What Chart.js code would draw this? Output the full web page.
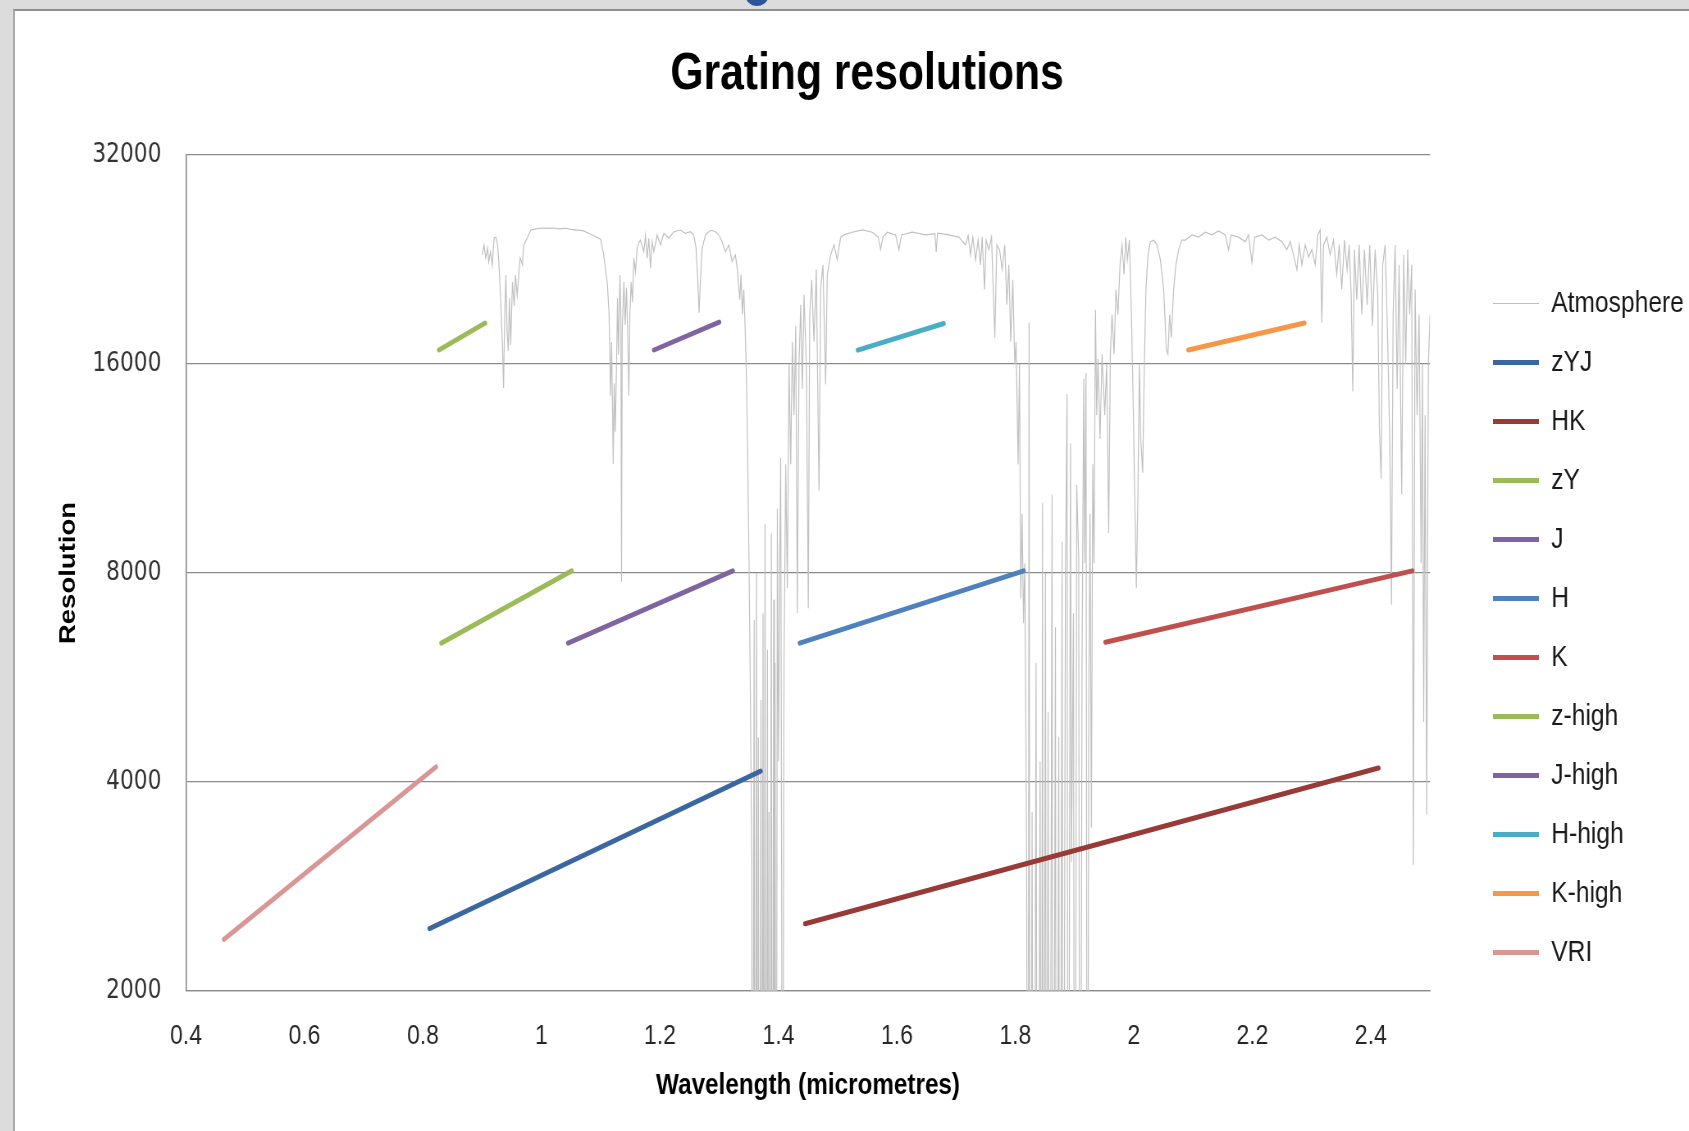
<!DOCTYPE html>
<html>
<head>
<meta charset="utf-8">
<title>Grating resolutions</title>
<script src="https://cdn.jsdelivr.net/npm/chart.js@4.4.1/dist/chart.umd.min.js"></script>
<style>
    html, body { margin: 0; padding: 0; background: #dcdcdc; overflow: hidden; }
    #frame { position: absolute; left: 13px; top: 9px; width: 1674px; height: 1120px;
             background: #ffffff; border-top: 2px solid #8e8e8e; border-left: 2px solid #a9a9a9; }
    #dot { position: absolute; left: 745px; top: -18px; width: 24px; height: 24px;
           border-radius: 50%; background: #2e5597; z-index: 2; }
    canvas { display: block; }
</style>
</head>
<body>
<div id="dot"></div>
<!-- the chart is drawn 2041 wide and shown 1674 wide, which gives the narrow lettering of the original -->
<div id="frame"><canvas id="chart-grating" width="2041" height="1120" style="width:1674px;height:1120px"></canvas></div>
<script>
"use strict";

// Gratings: wavelength (micrometres) and resolution at both ends of each line
let gratingNames = ["zYJ", "HK", "zY", "J", "H", "K", "z-high", "J-high", "H-high", "K-high", "VRI"];
let gratingStartWave = [0.811, 1.445, 0.831, 1.045, 1.436, 1.952, 0.827, 1.190, 1.534, 2.092, 0.464];
let gratingEndWave = [1.370, 2.413, 1.051, 1.323, 1.814, 2.470, 0.905, 1.300, 1.679, 2.288, 0.822];
let gratingStartRes = [2460, 2500, 6340, 6340, 6340, 6360, 16760, 16760, 16750, 16760, 2374];
let gratingEndRes = [4146, 4190, 8057, 8057, 8057, 8057, 18330, 18390, 18300, 18330, 4205];
let gratingColors = ["#3a67a0", "#983a36", "#9bbb59", "#8064a2", "#4f81bd", "#c0504d",
                     "#9bbb59", "#8064a2", "#4bacc6", "#f79646", "#d99694"];

// Atmosphere trace (300 = below the bottom of the axis)
let atmWave = [
    0.900, 0.903, 0.906, 0.909, 0.911, 0.914, 0.917, 0.920, 0.923, 0.926,
    0.928, 0.931, 0.934, 0.936, 0.938, 0.940, 0.942, 0.944, 0.946, 0.948,
    0.951, 0.954, 0.956, 0.959, 0.964, 0.968, 0.970, 0.976, 0.982, 0.990,
    1.000, 1.010, 1.020, 1.030, 1.040, 1.050, 1.060, 1.070, 1.083, 1.100,
    1.105, 1.111, 1.114, 1.1155, 1.1166, 1.1183, 1.120, 1.1211, 1.1228, 1.1245,
    1.1267, 1.1283, 1.130, 1.1324, 1.134, 1.1351, 1.1363, 1.1391, 1.1413, 1.1435,
    1.1459, 1.1475, 1.1492, 1.1514, 1.1536, 1.156, 1.1587, 1.1615, 1.165, 1.1671,
    1.1728, 1.1756, 1.1784, 1.1813, 1.184, 1.1868, 1.1897, 1.1953, 1.2009, 1.2066,
    1.215, 1.2234, 1.2346, 1.243, 1.2515, 1.2571, 1.261, 1.2639, 1.2661, 1.2683,
    1.2712, 1.2768, 1.2852, 1.2936, 1.2994, 1.3049, 1.3105, 1.3162, 1.3218, 1.3273,
    1.3307, 1.3347, 1.3369, 1.3391, 1.3415, 1.3437, 1.3459, 1.3482, 1.3504, 1.3526,
    1.355, 1.356, 1.359, 1.3605, 1.3630, 1.3645, 1.3661, 1.3678, 1.3705, 1.3718, 1.3740, 1.3755, 1.3774, 1.3790,
    1.3815, 1.3828, 1.3841, 1.3858, 1.3880, 1.3897, 1.3920, 1.3932, 1.3943, 1.3960,
    1.3982, 1.4000, 1.4022, 1.4038, 1.4055, 1.4066, 1.4094, 1.4123, 1.4150, 1.4179,
    1.4207, 1.4235, 1.4263, 1.4292, 1.4319, 1.4347, 1.4376, 1.4403, 1.4432, 1.4471,
    1.4504, 1.4528, 1.4562, 1.4600, 1.4639, 1.4685, 1.4713, 1.4752, 1.4797, 1.4825,
    1.4882, 1.4938, 1.4993, 1.5051, 1.5106, 1.5246, 1.5415, 1.5584, 1.5685, 1.5725,
    1.5764, 1.5837, 1.5978, 1.6034, 1.6079, 1.6258, 1.6484, 1.6641, 1.6663, 1.6686,
    1.6877, 1.7046, 1.7159, 1.7203, 1.7243, 1.7282, 1.7327, 1.7371, 1.7411, 1.7439,
    1.7479, 1.7506, 1.7552, 1.7597, 1.7653, 1.7686, 1.7732, 1.7776, 1.7821, 1.7855,
    1.7889, 1.7922, 1.7956, 1.7990, 1.8012, 1.8046, 1.8069, 1.8091, 1.8113, 1.8137,
    1.8159, 1.8175, 1.8192, 1.8214, 1.8231, 1.8248, 1.8282, 1.8311, 1.8349, 1.8373,
    1.8417, 1.8440, 1.8457, 1.8474, 1.8508, 1.8525, 1.8552, 1.8575, 1.8619, 1.8636,
    1.8676, 1.8693, 1.8732, 1.8750, 1.8788, 1.8805, 1.8845, 1.8872, 1.8889, 1.8929,
    1.8946, 1.8980, 1.9002, 1.9035, 1.9069, 1.9091, 1.9125, 1.9154, 1.9170, 1.9192,
    1.9216, 1.9238, 1.9260, 1.9283, 1.9306, 1.9328, 1.9351, 1.9373, 1.9395, 1.9429,
    1.9463, 1.9508, 1.9541, 1.9575, 1.9603, 1.9631, 1.9665, 1.9698, 1.9732, 1.9766,
    1.9800, 1.9834, 1.9862, 1.9890, 1.9924, 1.9958, 1.9992, 2.0019, 2.0042, 2.0069,
    2.0093, 2.0115, 2.0149, 2.0177, 2.0204, 2.0238, 2.0278, 2.0334, 2.0390, 2.0447,
    2.0503, 2.0548, 2.0575, 2.0604, 2.0632, 2.0671, 2.0710, 2.0756, 2.0811, 2.0868,
    2.0980, 2.1093, 2.1206, 2.1317, 2.1430, 2.1543, 2.1598, 2.1644, 2.1767, 2.1880,
    2.1936, 2.1992, 2.2038, 2.2161, 2.2273, 2.2386, 2.2498, 2.2582, 2.2639, 2.2695,
    2.2751, 2.2791, 2.2835, 2.2892, 2.2948, 2.3004, 2.3061, 2.3105, 2.3145, 2.3172,
    2.3201, 2.3257, 2.3313, 2.3369, 2.3425, 2.3466, 2.3509, 2.3555, 2.3600, 2.3634,
    2.3668, 2.3695, 2.3723, 2.3762, 2.3803, 2.3847, 2.3892, 2.3938, 2.3981, 2.4027,
    2.4072, 2.4116, 2.4145, 2.4174, 2.4200, 2.4241, 2.4285, 2.4319, 2.4348, 2.4376,
    2.4410, 2.4444, 2.4477, 2.4521, 2.4555, 2.4589, 2.4622, 2.4656, 2.4690, 2.4718,
    2.4747, 2.4781, 2.4815, 2.4849, 2.4871, 2.4892, 2.4916, 2.4943, 2.4971, 2.5000
];
let atmRes = [
    22970, 23740, 22750, 23500, 22450, 23200, 22220, 24300, 24380, 23740,
    22450, 19900, 17200, 14780, 18820, 21500, 17800, 16700, 19900, 17050,
    21000, 19400, 21500, 20100, 22750, 22220, 23740, 24300, 24950, 25050,
    25120, 25080, 25120, 25050, 25100, 25000, 24950, 24900, 24600, 24200,
    22970, 21000, 19000, 16500, 14400, 17200, 13600, 11480, 15000, 12780,
    15950, 19900, 16500, 21500, 18820, 7770, 17800, 21000, 18210, 20600,
    17200, 14400, 18820, 21000, 19650, 22750, 21700, 23500, 24000, 24130,
    23220, 24540, 22720, 24280, 21980, 24000, 23220, 24540, 23740, 24680,
    24280, 24810, 24950, 24680, 24810, 24540, 23470, 21050, 18960, 21050,
    23470, 24540, 24950, 24810, 24540, 24000, 23220, 23740, 22480, 22970,
    21880, 19810, 21530, 18850, 20480, 18160, 15530, 11470, 8260, 5370,
    3070, 300, 6850, 300, 8000, 300, 4640, 300, 5250, 300, 7000, 300, 9420, 300,
    6200, 300, 3620, 300, 9130, 300, 7320, 300, 5940, 300,
    9900, 4280, 8260, 11720, 2600, 300, 5940, 11470, 7610, 16000,
    11470, 17230, 13500, 18160, 7000, 16000, 19480, 14730, 20140, 16000,
    7120, 18850, 21150, 17230, 21880, 10510, 20480, 22230, 14960, 21530,
    22980, 23750, 22610, 24370, 24550, 24770, 24960, 24770, 24370, 23380,
    24370, 24770, 24550, 23380, 24550, 24770, 24550, 24650, 23200, 24700,
    24550, 24370, 23750, 24500, 22980, 24370, 22610, 24130, 22230, 24370,
    20480, 24130, 23380, 24370, 17460, 23750, 23380, 21900, 23750, 19480,
    22230, 17230, 21150, 16000, 17230, 11470, 16000, 7360, 9740, 6770,
    8260, 5200, 2600, 300, 18340, 300, 3620, 300, 5940, 300,
    4280, 300, 10100, 300, 8000, 300, 5050, 300, 10380, 300,
    6680, 300, 4640, 300, 8870, 300, 8000, 14490, 300, 12290,
    3070, 7000, 300, 10710, 8400, 300, 5940, 15240, 8260, 15530,
    300, 5050, 9740, 3440, 11470, 8260, 19160, 13500, 16260, 12490,
    16530, 13500, 16000, 9130, 16530, 18850, 16530, 20480, 18850, 22230,
    23750, 21530, 24370, 22610, 24130, 18850, 13500, 9740, 7610, 10510,
    16000, 12490, 11160, 16000, 20480, 22980, 24010, 24130, 23750, 22610,
    20480, 16800, 16530, 18850, 17460, 20480, 22230, 23380, 24130, 24130,
    24550, 24370, 24770, 24550, 24880, 24550, 23380, 24550, 24370, 24010,
    24550, 22410, 24370, 24550, 24130, 24370, 24010, 23380, 24010, 22980,
    21880, 23750, 22230, 23750, 22810, 23380, 22230, 24550, 24960, 18340,
    23750, 24370, 22980, 24130, 21530, 23750, 20480, 24130, 21880, 23750,
    20140, 14610, 23380, 19810, 23750, 18850, 23380, 19480, 23750, 18160,
    23380, 20140, 12880, 10930, 22230, 23750, 17230, 12490, 7200, 18850,
    23750, 14730, 22230, 10380, 22980, 16000, 23380, 18850, 22230, 3040,
    20480, 13500, 18850, 8260, 16000, 4880, 13500, 3590, 16000, 18850
];

// Axis ticks
let xTickValues = [0.4, 0.6, 0.8, 1.0, 1.2, 1.4, 1.6, 1.8, 2.0, 2.2, 2.4];
let xTickLabels = ["0.4", "0.6", "0.8", "1", "1.2", "1.4", "1.6", "1.8", "2", "2.2", "2.4"];
let yTickValues = [2000, 4000, 8000, 16000, 32000];
let yTickLabels = ["2000", "4000", "8000", "16000", "32000"];

function drawGratingChart() {
    "use strict";

    let sans = "'Liberation Sans', Arial, sans-serif";
    let gridColor = "#8a8a8a";

    Chart.defaults.font.family = sans;

    /* Build the datasets - the atmosphere first, then one line per grating */
    let datasets = [];
    datasets.push({
        "label": "Atmosphere",
        "data": atmWave.map(function (w, i) { return { x: w, y: atmRes[i] }; }),
        "borderColor": "#c0c0c0",
        "backgroundColor": "#c0c0c0",
        "borderWidth": 1.2,
        "showLine": true,
        "pointRadius": 0,
        "order": 1
    });
    for (let i = 0; i < gratingNames.length; i++) {
        datasets.push({
            "label": gratingNames[i],
            "data": [
                { x: gratingStartWave[i], y: gratingStartRes[i] },
                { x: gratingEndWave[i], y: gratingEndRes[i] }
            ],
            "borderColor": gratingColors[i],
            "backgroundColor": gratingColors[i],
            "borderWidth": 5,
            "borderCapStyle": "round",
            "showLine": true,
            "pointRadius": 0,
            "order": 0
        });
    }

    let canvas = document.getElementById("chart-grating");

    let myChart = new Chart(canvas, {
        "type": "scatter",
        "data": { "datasets": datasets },
        "options": {
            responsive: false,
            animation: false,
            events: [],
            layout: { padding: { top: 10, left: 36.6, right: 0, bottom: 32 } },
            plugins: {
                title: {
                    display: true,
                    text: "Grating resolutions",
                    color: "#000000",
                    font: { family: sans, size: 52, weight: "bold" },
                    padding: { top: 22.5, bottom: 49.1 }
                },
                legend: {
                    position: "right",
                    align: "start",
                    maxWidth: 268,
                    // blank title only pushes the list down
                    title: { display: true, text: " ", font: { size: 10, lineHeight: 1 }, padding: { top: 228.5, bottom: 0 } },
                    labels: {
                        usePointStyle: true,
                        pointStyle: "line",
                        pointStyleWidth: 56,
                        padding: 29,
                        color: "#1a1a1a",
                        font: { family: sans, size: 30 },
                        sort: function (a, b) { return a.datasetIndex - b.datasetIndex; }
                    }
                },
                tooltip: { enabled: false }
            },
            scales: {
                x: {
                    type: "linear",
                    position: "bottom",
                    min: 0.4,
                    max: 2.5,
                    afterBuildTicks: function (scale) {
                        scale.ticks = xTickValues.map(function (v) { return { value: v }; });
                    },
                    afterFit: function (scale) { scale.height = 108; },
                    grid: { display: false, drawTicks: false },
                    border: { color: gridColor, width: 1.3 },
                    ticks: {
                        padding: 28,
                        color: "#262626",
                        autoSkip: false,
                        maxRotation: 0,
                        font: { family: sans, size: 28 },
                        callback: function (value, index) { return xTickLabels[index]; }
                    },
                    title: {
                        display: true,
                        text: "Wavelength (micrometres)",
                        color: "#000000",
                        font: { family: sans, size: 29.6, weight: "bold", lineHeight: 0.9 },
                        padding: { top: 0, bottom: 0 }
                    }
                },
                y: {
                    type: "logarithmic",
                    position: "left",
                    min: 2000,
                    max: 32000,
                    afterBuildTicks: function (scale) {
                        scale.ticks = yTickValues.map(function (v) { return { value: v }; });
                    },
                    afterFit: function (scale) { scale.width = 171.9; },
                    grid: { color: gridColor, lineWidth: 1.3, drawTicks: false },
                    border: { color: gridColor, width: 1.6 },
                    ticks: {
                        padding: 30,
                        color: "#333333",
                        autoSkip: false,
                        font: { family: "'DejaVu Sans', sans-serif", size: 26.5 },
                        callback: function (value, index) { return yTickLabels[index]; }
                    },
                    title: {
                        display: true,
                        text: "Resolution",
                        color: "#000000",
                        font: { family: sans, size: 27.5, weight: "bold", lineHeight: 1 },
                        padding: { top: 15.5, bottom: 0 }
                    }
                },
                // empty axis that keeps a gap between the plot and the legend
                yPad: {
                    type: "linear",
                    position: "right",
                    display: true,
                    grid: { display: false, drawTicks: false },
                    border: { display: false },
                    ticks: { display: false },
                    afterFit: function (scale) { scale.width = 47.7; }
                }
            }
        }
    });
}

drawGratingChart();
</script>
</body>
</html>
